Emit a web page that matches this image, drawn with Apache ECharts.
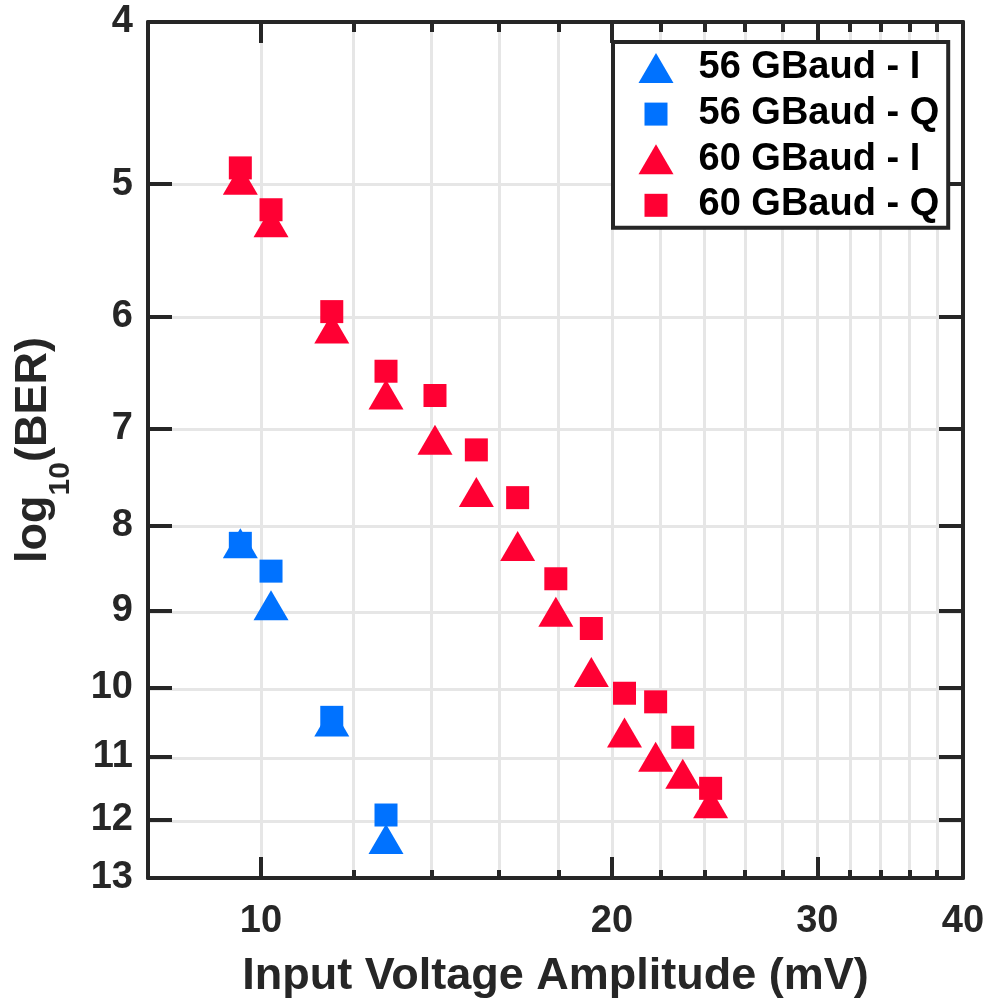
<!DOCTYPE html>
<html>
<head>
<meta charset="utf-8">
<script src="https://cdn.jsdelivr.net/npm/echarts@6/dist/echarts.min.js"></script>
<style>
  html, body { margin: 0; padding: 0; background: #ffffff; }
  #chart { width: 992px; height: 1004px; }
</style>
</head>
<body>
<div id="chart"></div>
<script>
// Input voltage amplitude (mV) for each measured point
const voltage56 = [9.6, 10.2, 11.5, 12.8];
const voltage60 = [9.6, 10.2, 11.5, 12.8, 14.1, 15.3, 16.6, 17.9, 19.2, 20.5, 21.8, 23.0, 24.3];

// -log10(BER) for the I and Q tributaries
const ber56I = [8.20, 8.93, 10.48, 12.32];
const ber56Q = [8.20, 8.52, 10.42, 11.92];
const ber60I = [4.97, 5.27, 6.10, 6.68, 7.11, 7.64, 8.23, 9.01, 9.79, 10.64, 11.00, 11.26, 11.73];
const ber60Q = [4.89, 5.18, 5.96, 6.47, 6.69, 7.21, 7.70, 8.61, 9.22, 10.08, 10.20, 10.71, 11.49];

const seriesNames = ['56 GBaud - I', '56 GBaud - Q', '60 GBaud - I', '60 GBaud - Q'];

// Tick and label positions
const xLabels = [10, 20, 30, 40];
const xMajorTicks = [10, 20, 30];
const xMinorTicks = [10, 12, 14, 16, 18, 20, 22, 24, 26, 28, 30, 32, 34, 36, 38];
const yTicks = [5, 6, 7, 8, 9, 10, 11, 12];
const yLabels = [4, 5, 6, 7, 8, 9, 10, 11, 12, 13];

const BLUE = '#0072FF';
const RED = '#FF0033';
const INK = '#262626';
const GRID_GRAY = '#E6E6E6';
const FONT = '"Liberation Sans", Arial, sans-serif';

const pairs = (xs, ys) => xs.map((x, i) => [x, ys[i]]);

// Legend icons share one 55x30 box so the text column lines up
const TRI_ICON = 'path://M0,0M55,30M0,30L17.5,0L35,30Z';
const SQ_ICON = 'path://M0,0M55,30M6,4L29,4L29,27L6,27Z';

const tickLine = { color: INK, width: 4 };
const frameLine = { show: true, onZero: false, lineStyle: { color: INK, width: 4 } };
const xRange = { type: 'log', logBase: 10, min: 8, max: 40 };
const yRange = { type: 'log', logBase: 10, min: 4, max: 13, inverse: true };
const labelFmt = v => String(Math.round(v));

const chart = echarts.init(document.getElementById('chart'), null, { renderer: 'canvas' });

chart.setOption({
  animation: false,
  backgroundColor: '#ffffff',
  grid: [
    { left: 148, top: 22, width: 815, height: 858, containLabel: false },
    { left: 148, top: 22, width: 815, height: 858, containLabel: false }
  ],
  xAxis: [
    // grid lines and short ticks
    Object.assign({}, xRange, {
      gridIndex: 0, position: 'bottom', z: 0,
      axisLine: { show: false },
      axisTick: { show: true, inside: true, length: 10, customValues: xMinorTicks, lineStyle: tickLine },
      axisLabel: { show: false },
      minorTick: { show: false },
      splitLine: { show: true, lineStyle: { color: GRID_GRAY, width: 3 } }
    }),
    Object.assign({}, xRange, {
      gridIndex: 0, position: 'top', z: 0,
      axisLine: { show: false },
      axisTick: { show: true, inside: true, length: 10, customValues: xMinorTicks, lineStyle: tickLine },
      axisLabel: { show: false },
      splitLine: { show: false }
    }),
    // frame, long ticks and labels
    Object.assign({}, xRange, {
      gridIndex: 1, position: 'bottom', z: 1,
      axisLine: frameLine,
      axisTick: { show: true, inside: true, length: 21, customValues: xMajorTicks, lineStyle: tickLine },
      axisLabel: {
        customValues: xLabels, formatter: labelFmt, margin: 25,
        fontFamily: FONT, fontWeight: 'bold', fontSize: 38, color: INK
      },
      splitLine: { show: false },
      name: 'Input Voltage Amplitude (mV)',
      nameLocation: 'middle',
      nameGap: 76,
      nameTextStyle: { fontFamily: FONT, fontWeight: 'bold', fontSize: 45, color: INK }
    }),
    Object.assign({}, xRange, {
      gridIndex: 1, position: 'top', z: 1,
      axisLine: frameLine,
      axisTick: { show: true, inside: true, length: 21, customValues: xMajorTicks, lineStyle: tickLine },
      axisLabel: { show: false },
      splitLine: { show: false }
    })
  ],
  yAxis: [
    Object.assign({}, yRange, {
      gridIndex: 0, position: 'left', z: 0,
      axisLine: { show: false },
      axisTick: { show: false, customValues: yTicks },
      axisLabel: { show: false },
      splitLine: { show: true, lineStyle: { color: GRID_GRAY, width: 3 } }
    }),
    Object.assign({}, yRange, {
      gridIndex: 1, position: 'left', z: 1,
      axisLine: frameLine,
      axisTick: { show: true, inside: true, length: 24, customValues: yTicks, lineStyle: tickLine },
      axisLabel: {
        customValues: yLabels, formatter: labelFmt, margin: 15,
        fontFamily: FONT, fontWeight: 'bold', fontSize: 38, color: INK
      },
      splitLine: { show: false },
      name: '{a|log}{b|10}{a|(BER)}',
      nameLocation: 'middle',
      nameRotate: 90,
      nameGap: 37,
      nameTextStyle: {
        rich: {
          a: { fontFamily: FONT, fontWeight: 'bold', fontSize: 45, color: INK, lineHeight: 46, verticalAlign: 'top' },
          b: { fontFamily: FONT, fontWeight: 'bold', fontSize: 30, color: INK, lineHeight: 100, verticalAlign: 'top', padding: [35, 0, 0, 0] }
        }
      }
    }),
    Object.assign({}, yRange, {
      gridIndex: 1, position: 'right', z: 1,
      axisLine: frameLine,
      axisTick: { show: true, inside: true, length: 24, customValues: yTicks, lineStyle: tickLine },
      axisLabel: { show: false },
      splitLine: { show: false }
    })
  ],
  legend: {
    orient: 'vertical',
    left: 613,
    top: 42,
    itemWidth: 55,
    itemHeight: 30,
    itemGap: 7.6,
    padding: [7, 9, 4, 25.5],
    backgroundColor: '#ffffff',
    borderColor: INK,
    borderWidth: 4,
    borderRadius: 0,
    selectedMode: false,
    textStyle: { fontFamily: FONT, fontWeight: 'bold', fontSize: 38, color: '#000000', lineHeight: 30 },
    data: [
      { name: seriesNames[0], icon: TRI_ICON },
      { name: seriesNames[1], icon: SQ_ICON },
      { name: seriesNames[2], icon: TRI_ICON },
      { name: seriesNames[3], icon: SQ_ICON }
    ]
  },
  series: [
    {
      name: seriesNames[0], type: 'scatter', xAxisIndex: 2, yAxisIndex: 1,
      symbol: 'triangle', symbolSize: [35, 30],
      itemStyle: { color: BLUE, opacity: 1 },
      data: pairs(voltage56, ber56I)
    },
    {
      name: seriesNames[1], type: 'scatter', xAxisIndex: 2, yAxisIndex: 1,
      symbol: 'rect', symbolSize: [23, 23],
      itemStyle: { color: BLUE, opacity: 1 },
      data: pairs(voltage56, ber56Q)
    },
    {
      name: seriesNames[2], type: 'scatter', xAxisIndex: 2, yAxisIndex: 1,
      symbol: 'triangle', symbolSize: [35, 30],
      itemStyle: { color: RED, opacity: 1 },
      data: pairs(voltage60, ber60I)
    },
    {
      name: seriesNames[3], type: 'scatter', xAxisIndex: 2, yAxisIndex: 1,
      symbol: 'rect', symbolSize: [23, 23],
      itemStyle: { color: RED, opacity: 1 },
      data: pairs(voltage60, ber60Q)
    }
  ]
});
</script>
</body>
</html>
